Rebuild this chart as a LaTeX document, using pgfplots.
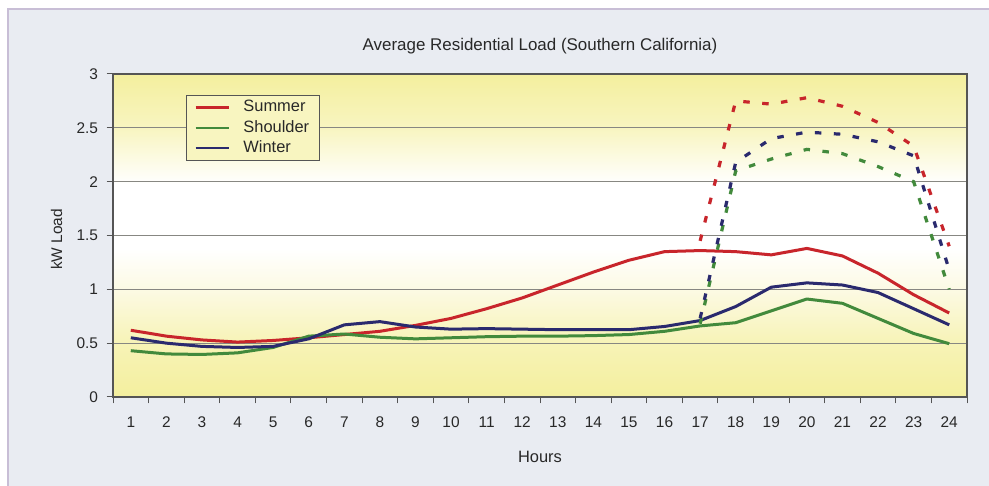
\documentclass[border=0pt]{standalone}
\usepackage{pgfplots}
\usepackage{pgfplotstable}
\pgfplotsset{compat=1.18}
\usepackage{fontspec}
\setmainfont{Liberation Sans}

\definecolor{panel}{RGB}{233,236,242}
\definecolor{paneledge}{RGB}{200,190,214}
\definecolor{bgyel}{RGB}{244,239,158}
\definecolor{bgyelA}{RGB}{247,243,182}
\definecolor{bgyelB}{RGB}{252,250,228}
\definecolor{bgyelC}{RGB}{248,245,192}
\definecolor{summer}{RGB}{200,37,43}
\definecolor{shoulder}{RGB}{66,138,60}
\definecolor{winter}{RGB}{42,42,110}
\definecolor{gridc}{RGB}{135,135,130}
\definecolor{axisc}{RGB}{85,85,85}
\definecolor{txt}{RGB}{40,40,40}

% plot-area background: yellow at top and bottom, white band in the middle
\pgfdeclareverticalshading{loadbg}{100bp}{color(0bp)=(bgyel); color(25bp)=(bgyel);
  color(33.3bp)=(bgyelA); color(41.7bp)=(bgyelB); color(48bp)=(white);
  color(58bp)=(white); color(66.7bp)=(bgyelC); color(75bp)=(bgyel); color(100bp)=(bgyel)}

% hourly average load, kW
\pgfplotstableread{
h  summer shoulder winter
1  0.62  0.43  0.55
2  0.565 0.40  0.50
3  0.53  0.395 0.47
4  0.51  0.41  0.46
5  0.525 0.46  0.47
6  0.55  0.565 0.54
7  0.58  0.585 0.67
8  0.61  0.555 0.70
9  0.665 0.54  0.65
10 0.73  0.55  0.63
11 0.82  0.56  0.635
12 0.92  0.565 0.63
13 1.04  0.565 0.625
14 1.16  0.57  0.625
15 1.27  0.58  0.625
16 1.35  0.61  0.655
17 1.36  0.66  0.71
18 1.35  0.69  0.84
19 1.32  0.80  1.02
20 1.38  0.91  1.06
21 1.31  0.87  1.04
22 1.15  0.73  0.97
23 0.95  0.59  0.82
24 0.78  0.495 0.67
}\solidload

% evening peak curves
\pgfplotstableread{
h  summer shoulder winter
17 1.45  0.68  0.73
18 2.75  2.10  2.18
19 2.72  2.21  2.40
20 2.78  2.30  2.46
21 2.70  2.26  2.44
22 2.55  2.14  2.37
23 2.33  2.00  2.24
24 1.40  1.00  1.18
}\peakload

\begin{document}
\begin{tikzpicture}[x=1bp,y=1bp]
\path[use as bounding box] (0,0) rectangle (989,486);
\fill[white] (0,0) rectangle (989,486);
\filldraw[fill=panel, draw=paneledge, line width=2bp] (8,-10) rectangle (1000,477);
\begin{axis}[
  at={(113bp,89bp)}, anchor=south west,
  scale only axis, width=854bp, height=323bp,
  xmin=0.5, xmax=24.5, ymin=0, ymax=3,
  axis background/.style={shade, shading=loadbg},
  ytick={0,0.5,...,3},
  xtick={0.5,1.5,...,24.5}, xticklabels={},
  extra x ticks={1,2,...,24},
  extra x tick style={major tick length=0pt,
    tick label style={yshift=-16bp}},
  tick align=outside, tick pos=left,
  major tick length=6.5bp,
  ymajorgrids, grid style={gridc, line width=1.3bp},
  axis line style={axisc, line width=1.3bp},
  tick style={axisc, line width=1bp},
  /pgf/number format/assume math mode=true,
  tick label style={font=\fontsize{15.5}{18}\selectfont, text=txt},
  yticklabel style={xshift=-5bp},
  title={Average Residential Load (Southern California)},
  every axis title/.style={at={(axis description cs:0.5,1)}, anchor=center,
    yshift=28bp, font=\fontsize{17}{20}\selectfont, text=txt},
  xlabel={Hours},
  every axis x label/.style={at={(axis description cs:0.5,0)}, anchor=center,
    yshift=-60bp, font=\fontsize{16.5}{19}\selectfont, text=txt},
  ylabel={kW Load},
  every axis y label/.style={at={(axis description cs:-0.066,0.5)}, anchor=center,
    yshift=-4bp, rotate=90, font=\fontsize{15.5}{18}\selectfont, text=txt},
  legend style={at={(0.0855,0.935)}, anchor=north west, fill=bgyelC,
    draw=axisc, line width=1bp, inner xsep=8bp, inner ysep=2bp,
    font=\fontsize{16.5}{19}\selectfont, text=txt,
    nodes={inner sep=2.5bp, text height=11.8bp, text depth=3.5bp},
    column sep=11bp},
  legend cell align=left,
  legend image code/.code={\draw[#1, line width=2.4bp] (0bp,0bp) -- (33bp,0bp);},
]
\addplot[summer, line width=3bp, line join=round] table[x=h, y=summer]{\solidload};
\addlegendentry{Summer}
\addplot[shoulder, line width=3bp, line join=round] table[x=h, y=shoulder]{\solidload};
\addlegendentry{Shoulder}
\addplot[winter, line width=3bp, line join=round] table[x=h, y=winter]{\solidload};
\addlegendentry{Winter}
\addplot[shoulder, line width=3.2bp, dash pattern=on 6.5bp off 12.5bp, forget plot] table[x=h, y=shoulder]{\peakload};
\addplot[winter, line width=3.2bp, dash pattern=on 6.5bp off 12.5bp, forget plot] table[x=h, y=winter]{\peakload};
\addplot[summer, line width=3.2bp, dash pattern=on 6.5bp off 12.5bp, forget plot] table[x=h, y=summer]{\peakload};
\end{axis}
\end{tikzpicture}
\end{document}
